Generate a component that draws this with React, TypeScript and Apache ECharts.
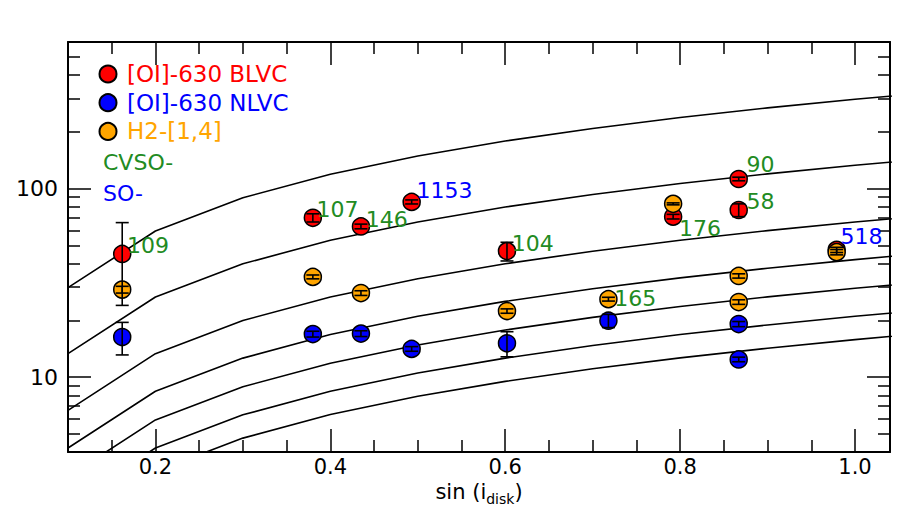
import React, { useEffect, useRef } from "react";
import * as echarts from "echarts";

// ---- data ----
const curveX = [0.1, 0.2, 0.3, 0.4, 0.5, 0.6, 0.7, 0.8, 0.9, 1.0, 1.1];
const curveA = [29.8, 59.6, 89.4, 119.2, 149, 178.8, 208.6, 238.4, 268.2, 298, 327.8];
const curveB = [13.3, 26.6, 39.9, 53.2, 66.5, 79.8, 93.1, 106.4, 119.7, 133, 146.3];
const curveC = [6.65, 13.3, 19.95, 26.6, 33.25, 39.9, 46.55, 53.2, 59.85, 66.5, 73.15];
const curveD = [4.2, 8.4, 12.6, 16.8, 21.0, 25.2, 29.4, 33.6, 37.8, 42.0, 46.2];
const curveE = [2.96, 5.92, 8.88, 11.84, 14.8, 17.76, 20.72, 23.68, 26.64, 29.6, 32.56];
const curveF = [2.1, 4.2, 6.3, 8.4, 10.5, 12.6, 14.7, 16.8, 18.9, 21.0, 23.1];
const curveG = [1.58, 3.16, 4.74, 6.32, 7.9, 9.48, 11.06, 12.64, 14.22, 15.8, 17.38];
const curves = [curveA, curveB, curveC, curveD, curveE, curveF, curveG];

const redX = [0.162, 0.38, 0.435, 0.493, 0.602, 0.792, 0.867, 0.867, 0.979];
const redY = [45, 70, 63, 85, 46.6, 71, 112.5, 77, 47.3];
const redErr = [21, 3.5, 1.8, 2.1, 5.3, 2, 2.5, 6, 1.5];
const redLabels = ["109", "107", "146", "1153", "104", "176", "90", "58", ""];
const redLabelGroup = ["CVSO", "CVSO", "CVSO", "SO", "CVSO", "CVSO", "CVSO", "CVSO", ""];

const blueX = [0.162, 0.38, 0.435, 0.493, 0.602, 0.718, 0.867, 0.867];
const blueY = [16.3, 16.9, 17.0, 14.1, 15.1, 19.9, 19.1, 12.4];
const blueErr = [3.2, 0.6, 0.6, 0.4, 2.3, 1.6, 0.6, 0.35];

const orangeX = [0.162, 0.38, 0.435, 0.602, 0.718, 0.792, 0.867, 0.867, 0.979];
const orangeY = [29.1, 34.0, 27.9, 22.4, 25.9, 83, 34.4, 25.0, 46.0];
const orangeErr = [1.2, 0.8, 0.8, 0.6, 0.6, 1.0, 0.9, 0.7, 1.5];
const orangeLabels = ["", "", "", "", "165", "", "", "", "518"];
const orangeLabelGroup = ["", "", "", "", "CVSO", "", "", "", "SO"];

const seriesNames = ["[OI]-630 BLVC", "[OI]-630 NLVC", "H2-[1,4]"];
const groupNames = ["CVSO-", "SO-"];

const xTickLabels = [0.2, 0.4, 0.6, 0.8, 1.0];
const xMinorTicks = [0.15, 0.25, 0.3, 0.35, 0.45, 0.5, 0.55, 0.65, 0.7, 0.75, 0.85, 0.9, 0.95];
const yTickLabels = [10, 100];
const yMinorTicks = [5, 6, 7, 8, 9, 20, 30, 40, 50, 60, 70, 80, 90, 200, 300, 400, 500];

// ---- layout / style (not data) ----
const FONT = "DejaVu Sans";
const GREEN = "#228B22";
const BLUE = "#0000FF";
const RED = "#FF0000";
const ORANGE = "#FFA500";
const groupColor: Record<string, string> = { CVSO: GREEN, SO: BLUE };
// label offsets (dx from marker centre to text left, dy of text centre)
const redLabelOffsets = [[4, -8], [3, -8], [4, -7], [4, -11], [4, -8], [5, 12], [7, -14], [7, -8], [0, 0]];
const orangeLabelOffsets = [[0, 0], [0, 0], [0, 0], [0, 0], [5, -1], [0, 0], [0, 0], [0, 0], [3, -16]];

const SYMBOL = 17;

function pointData(xs: number[], ys: number[], labels?: string[], groups?: string[], offs?: number[][]) {
  return xs.map((x, i) => {
    const item: any = { value: [x, ys[i]] };
    if (labels && labels[i]) {
      item.label = {
        show: true,
        formatter: labels[i],
        position: "right",
        distance: 0,
        offset: [offs![i][0] - SYMBOL / 2, offs![i][1]],
        color: groupColor[groups![i]],
        fontSize: 22,
        fontFamily: FONT,
      };
    }
    return item;
  });
}

function errData(xs: number[], ys: number[], es: number[]) {
  return xs.map((x, i) => [x, ys[i] - es[i], ys[i] + es[i]]);
}

export default function App() {
  const ref = useRef<HTMLDivElement>(null);
  useEffect(() => {
    if (!ref.current) return;
    const chart = echarts.init(ref.current, undefined, { renderer: "svg" });

    const baseX = { type: "value", min: 0.1, max: 1.04, gridIndex: 0, splitLine: { show: false } };
    const baseY = { type: "log", logBase: 10, min: 4, max: 600, gridIndex: 0, splitLine: { show: false } };
    const tickLine = { color: "#000", width: 1.5 };

    const errSeries = (name: string, data: number[][]) => ({
      type: "custom",
      name: name + "-err",
      xAxisIndex: 0,
      yAxisIndex: 0,
      z: 10,
      silent: true,
      encode: { x: 0, y: [1, 2] },
      data,
      renderItem: (params: any, api: any) => {
        const x = api.value(0);
        const lo = api.value(1);
        const hi = api.value(2);
        const p1 = api.coord([x, hi]);
        const p2 = api.coord([x, lo]);
        const hw = 6.5;
        const st = { stroke: "#000", lineWidth: 1.6 };
        return {
          type: "group",
          children: [
            { type: "line", shape: { x1: p1[0], y1: p1[1], x2: p2[0], y2: p2[1] }, style: st },
            { type: "line", shape: { x1: p1[0] - hw, y1: p1[1], x2: p1[0] + hw, y2: p1[1] }, style: st },
            { type: "line", shape: { x1: p2[0] - hw, y1: p2[1], x2: p2[0] + hw, y2: p2[1] }, style: st },
          ],
        };
      },
    });

    const scatter = (name: string, color: string, data: any[], z: number) => ({
      type: "scatter",
      name,
      xAxisIndex: 0,
      yAxisIndex: 0,
      symbol: "circle",
      symbolSize: SYMBOL,
      z,
      itemStyle: { color, borderColor: "#000", borderWidth: 1.5, opacity: 1 },
      data,
    });

    const option: any = {
      animation: false,
      backgroundColor: "#fff",
      textStyle: { fontFamily: FONT },
      grid: { left: 68, top: 42, right: 7, bottom: 59, containLabel: false, outerBoundsMode: "none" },
      legend: {
        orient: "vertical",
        left: 93.5,
        top: 57.5,
        itemWidth: 28,
        itemHeight: 17,
        itemGap: 5.7,
        icon: "circle",
        selectedMode: false,
        textStyle: { fontSize: 23, fontFamily: FONT },
        data: [
          { name: seriesNames[0], textStyle: { color: RED } },
          { name: seriesNames[1], textStyle: { color: BLUE } },
          { name: seriesNames[2], textStyle: { color: ORANGE } },
        ],
      },
      graphic: [
        {
          type: "text",
          left: 103,
          top: 151,
          style: { text: groupNames[0], fill: GREEN, font: `22px "${FONT}"` },
        },
        {
          type: "text",
          left: 103,
          top: 182,
          style: { text: groupNames[1], fill: BLUE, font: `22px "${FONT}"` },
        },
      ],
      xAxis: [
        {
          ...baseX,
          position: "bottom",
          axisLine: { show: true, onZero: false, lineStyle: { color: "#000", width: 2 } },
          axisTick: { show: true, inside: true, length: 23, customValues: xTickLabels, lineStyle: tickLine },
          axisLabel: {
            show: true,
            customValues: xTickLabels,
            formatter: (v: number) => v.toFixed(1),
            fontSize: 21,
            color: "#000",
            margin: 4,
            fontFamily: FONT,
          },
          name: "{n|sin (i}{s|disk}{n|)}",
          nameLocation: "middle",
          nameGap: 27,
          nameTextStyle: {
            fontFamily: FONT,
            fontSize: 21,
            color: "#000",
            rich: {
              n: { fontSize: 21, fontFamily: FONT, color: "#000", verticalAlign: "top" },
              s: { fontSize: 14, fontFamily: FONT, color: "#000", verticalAlign: "top", padding: [10, 0, 0, 0] },
            },
          },
        },
        {
          ...baseX,
          position: "bottom",
          axisLine: { show: false, onZero: false },
          axisTick: { show: true, inside: true, length: 12, customValues: xMinorTicks, lineStyle: tickLine },
          axisLabel: { show: false },
        },
        {
          ...baseX,
          position: "top",
          axisLine: { show: true, onZero: false, lineStyle: { color: "#000", width: 2 } },
          axisTick: { show: true, inside: true, length: 23, customValues: xTickLabels, lineStyle: tickLine },
          axisLabel: { show: false },
        },
        {
          ...baseX,
          position: "top",
          axisLine: { show: false, onZero: false },
          axisTick: { show: true, inside: true, length: 12, customValues: xMinorTicks, lineStyle: tickLine },
          axisLabel: { show: false },
        },
      ],
      yAxis: [
        {
          ...baseY,
          position: "left",
          axisLine: { show: true, onZero: false, lineStyle: { color: "#000", width: 2 } },
          axisTick: { show: true, inside: true, length: 23, customValues: yTickLabels, lineStyle: tickLine },
          axisLabel: {
            show: true,
            customValues: yTickLabels,
            formatter: (v: number) => String(Math.round(v)),
            fontSize: 22,
            color: "#000",
            margin: 10,
            fontFamily: FONT,
          },
        },
        {
          ...baseY,
          position: "left",
          axisLine: { show: false, onZero: false },
          axisTick: { show: true, inside: true, length: 12, customValues: yMinorTicks, lineStyle: tickLine },
          axisLabel: { show: false },
        },
        {
          ...baseY,
          position: "right",
          axisLine: { show: true, onZero: false, lineStyle: { color: "#000", width: 2 } },
          axisTick: { show: true, inside: true, length: 23, customValues: yTickLabels, lineStyle: tickLine },
          axisLabel: { show: false },
        },
        {
          ...baseY,
          position: "right",
          axisLine: { show: false, onZero: false },
          axisTick: { show: true, inside: true, length: 12, customValues: yMinorTicks, lineStyle: tickLine },
          axisLabel: { show: false },
        },
      ],
      series: [
        ...curves.map((c, k) => ({
          type: "line",
          name: "curve" + k,
          xAxisIndex: 0,
          yAxisIndex: 0,
          data: curveX.map((x, i) => [x, c[i]]),
          showSymbol: false,
          symbol: "none",
          silent: true,
          clip: true,
          z: 2,
          lineStyle: { color: "#000", width: 1.6 },
        })),
        scatter(seriesNames[0], RED, pointData(redX, redY, redLabels, redLabelGroup, redLabelOffsets), 5),
        scatter(seriesNames[1], BLUE, pointData(blueX, blueY), 6),
        scatter(seriesNames[2], ORANGE, pointData(orangeX, orangeY, orangeLabels, orangeLabelGroup, orangeLabelOffsets), 7),
        errSeries("red", errData(redX, redY, redErr)),
        errSeries("blue", errData(blueX, blueY, blueErr)),
        errSeries("orange", errData(orangeX, orangeY, orangeErr)),
      ],
    };
    chart.setOption(option);
    return () => chart.dispose();
  }, []);
  return (
    <div
      ref={ref}
      style={{ position: "fixed", left: 0, top: 0, width: 897, height: 511, background: "#fff" }}
    />
  );
}
